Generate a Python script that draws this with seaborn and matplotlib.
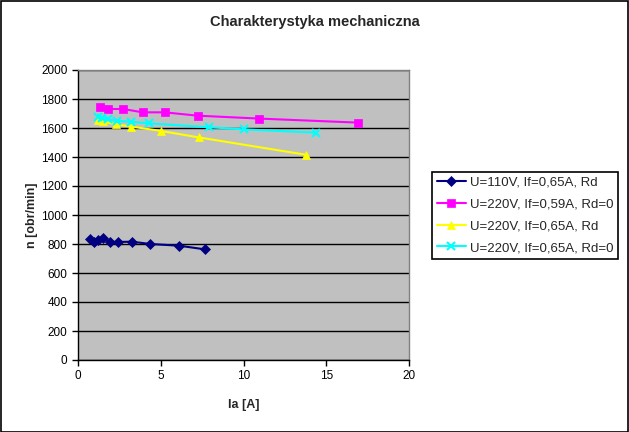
import matplotlib
matplotlib.use("Agg")
import matplotlib.pyplot as plt
import seaborn as sns
import pandas as pd
from matplotlib.patches import Rectangle

# Data
s1_label = "U=110V, If=0,65A, Rd"
s1_x = [0.73, 0.97, 1.22, 1.49, 1.93, 2.44, 3.24, 4.38, 6.13, 7.67]
s1_y = [832, 816, 828, 839, 816, 814, 816, 800, 788, 763]

s2_label = "U=220V, If=0,59A, Rd=0"
s2_x = [1.33, 1.83, 2.74, 3.91, 5.24, 7.23, 10.95, 16.94]
s2_y = [1747, 1731, 1731, 1708, 1708, 1685, 1665, 1637]

s3_label = "U=220V, If=0,65A, Rd"
s3_x = [1.2, 1.5, 2.3, 3.2, 5.0, 7.3, 13.8]
s3_y = [1655, 1645, 1625, 1610, 1580, 1535, 1415]

s4_label = "U=220V, If=0,65A, Rd=0"
s4_x = [1.23, 1.43, 1.83, 2.34, 3.2, 4.3, 7.93, 10.0, 14.4]
s4_y = [1678, 1667, 1660, 1650, 1643, 1632, 1605, 1591, 1568]

title = "Charakterystyka mechaniczna"
xlabel = "Ia [A]"
ylabel = "n [obr/min]"
x_ticks = [0, 5, 10, 15, 20]
y_ticks = [0, 200, 400, 600, 800, 1000, 1200, 1400, 1600, 1800, 2000]

sns.set_style("white")
plt.rcParams['font.family'] = ['Liberation Sans', 'DejaVu Sans']

fig = plt.figure(figsize=(6.29, 4.32), dpi=100)
ax = fig.add_axes([78/629, 1-360/432, (409-78)/629, (360-70)/432])
ax.set_facecolor("#C0C0C0")

series = [
    (s1_label, s1_x, s1_y, "#000080", "D", 5),
    (s2_label, s2_x, s2_y, "#FF00FF", "s", 6),
    (s3_label, s3_x, s3_y, "#FFFF00", "^", 6),
    (s4_label, s4_x, s4_y, "#00FFFF", "x", 6),
]
for lab, xs, ys, col, mk, ms in series:
    df = pd.DataFrame({"x": xs, "y": ys})
    sns.lineplot(data=df, x="x", y="y", sort=False, ax=ax, color=col,
                 marker=mk, markersize=ms, markeredgecolor=col,
                 markeredgewidth=1.5 if mk == "x" else 0.5,
                 linewidth=1.5, label=lab, legend=False)

ax.set_xlim(0, 20)
ax.set_ylim(0, 2000)
ax.set_xticks(x_ticks)
ax.set_yticks(y_ticks)
ax.tick_params(axis="both", direction="out", length=4, width=1, colors="black",
               labelsize=8.5, left=True, bottom=True)
ax.yaxis.grid(True, color="black", linewidth=1)
ax.xaxis.grid(False)
ax.set_axisbelow(True)
for side in ["top", "right"]:
    ax.spines[side].set_color("#808080")
    ax.spines[side].set_linewidth(1)
for side in ["left", "bottom"]:
    ax.spines[side].set_color("black")
    ax.spines[side].set_linewidth(1)

ax.set_xlabel(xlabel, fontsize=9, fontweight="bold", labelpad=12)
ax.set_ylabel(ylabel, fontsize=9, fontweight="bold", labelpad=2)
fig.text(315/629, 1-22/432, title, ha="center", va="center",
         fontsize=10.5, fontweight="bold")

handles, labels = ax.get_legend_handles_labels()
leg = fig.legend(handles, labels, loc="upper left",
                 bbox_to_anchor=(432/629, 1-172/432), fontsize=9.5,
                 frameon=True, fancybox=False, edgecolor="black",
                 framealpha=1, borderpad=0.35, labelspacing=0.72,
                 handlelength=2.2, handletextpad=0.3, borderaxespad=0)
leg.get_frame().set_linewidth(1.2)

fig.patches.append(Rectangle((0.001, 0.001), 0.997, 0.997, transform=fig.transFigure,
                             fill=False, edgecolor="black", linewidth=1.2))

fig.savefig("out.png", dpi=100)
